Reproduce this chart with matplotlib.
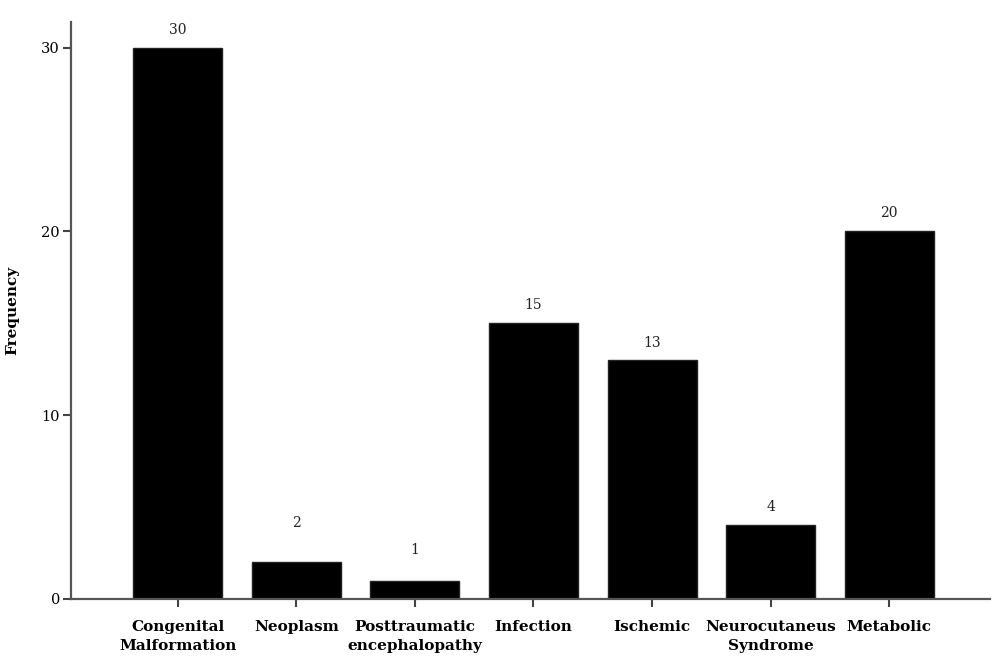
import matplotlib
matplotlib.use("Agg")
import matplotlib.pyplot as plt
import numpy as np

categories = ["Congenital\nMalformation", "Neoplasm", "Posttraumatic\nencephalopathy",
              "Infection", "Ischemic", "Neurocutaneus\nSyndrome", "Metabolic"]
counts = [30, 2, 1, 15, 13, 4, 20]
yticks = [0, 10, 20, 30]

# label gaps above bars (points) - the short bars have theirs floated higher
label_gap = [8, 23, 17, 8, 7, 8, 8]

plt.rcParams['font.family'] = ['DejaVu Serif']

fig = plt.figure(figsize=(10, 6.58), dpi=100)
ax = fig.add_axes([0.071, 0.0897, 0.919, 0.877])

x = np.arange(len(categories))
ax.bar(x, counts, width=0.75, color="black", edgecolor="#222222", linewidth=1)

for xi, v, g in zip(x, counts, label_gap):
    ax.annotate(str(v), (xi, v), xytext=(0, g), textcoords="offset points",
                ha="center", va="bottom", fontsize=10, color="#222222")

ax.set_xlim(-0.9, 6.85)
ax.set_ylim(0, 31.4)
ax.set_yticks(yticks)
ax.set_xticks(x)
ax.set_xticklabels(categories, fontsize=11, fontweight="bold", linespacing=1.45)
ax.tick_params(axis="both", direction="out", color="#444444", width=1.5, length=6)
ax.tick_params(axis="y", labelsize=10.5, pad=2)
ax.tick_params(axis="x", pad=9)
ax.set_ylabel("Frequency", fontsize=11, fontweight="bold", labelpad=16)

for s in ["top", "right"]:
    ax.spines[s].set_visible(False)
for s in ["left", "bottom"]:
    ax.spines[s].set_color("#555555")
    ax.spines[s].set_linewidth(1.6)

fig.savefig("out.png", dpi=100)
